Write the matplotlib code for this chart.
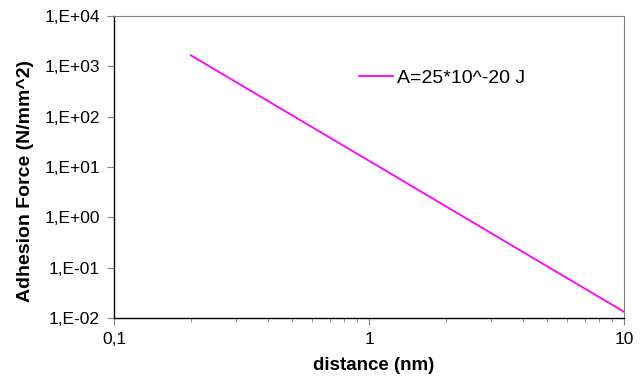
import matplotlib
matplotlib.use("Agg")
import matplotlib.pyplot as plt
from matplotlib.ticker import FixedLocator, LogLocator, NullFormatter, FuncFormatter
import numpy as np

# distance in nm vs adhesion force in N/mm^2
distance = [0.2, 0.5, 1.0, 2.0, 5.0, 10.0]
force = [1658.0, 106.0, 13.3, 1.66, 0.106, 0.0133]
seriesLabel = "A=25*10^-20 J"

plt.rcParams["font.family"] = ["Liberation Sans", "DejaVu Sans"]

fig = plt.figure(figsize=(6.44, 3.78), dpi=100)
ax = fig.add_axes([114/644, 1-318/378, (624-114)/644, (318-16)/378])

ax.plot(distance, force, color="#ff00ff", lw=1.3, label=seriesLabel)
ax.set_xscale("log")
ax.set_yscale("log")
ax.set_xlim(0.1, 10)
ax.set_ylim(1e-2, 1e4)

def xfmt(v, pos):
    return ("%g" % v).replace(".", ",")

def yfmt(v, pos):
    e = int(round(np.log10(v)))
    return "1,E%s%02d" % ("+" if e >= 0 else "-", abs(e))

ax.xaxis.set_major_locator(FixedLocator([0.1, 1, 10]))
ax.xaxis.set_major_formatter(FuncFormatter(xfmt))
ax.xaxis.set_minor_locator(LogLocator(base=10, subs=np.arange(2, 10)))
ax.xaxis.set_minor_formatter(NullFormatter())
ax.yaxis.set_major_locator(FixedLocator([10.0**k for k in range(-2, 5)]))
ax.yaxis.set_major_formatter(FuncFormatter(yfmt))
ax.yaxis.set_minor_locator(FixedLocator([]))

ax.tick_params(axis="both", which="major", labelsize=12.5, length=5, color="#808080")
ax.tick_params(axis="x", which="minor", length=3, color="#808080")
ax.tick_params(axis="x", pad=5)
ax.tick_params(axis="y", pad=5)

for s in ["top", "right"]:
    ax.spines[s].set_color("#808080")
    ax.spines[s].set_linewidth(0.8)
for s in ["left", "bottom"]:
    ax.spines[s].set_color("black")
    ax.spines[s].set_linewidth(1.0)

ax.set_xlabel("distance (nm)", fontsize=13.5, fontweight="bold")
ax.xaxis.set_label_coords(0.51, -0.128)
ax.set_ylabel("Adhesion Force (N/mm^2)", fontsize=14, fontweight="bold")
ax.yaxis.set_label_coords(-0.157, 0.455)

ax.legend(loc="center left", bbox_to_anchor=(245/510, 0.795), frameon=False, fontsize=14,
          handlelength=1.75, handletextpad=0.2, borderpad=0, borderaxespad=0)

fig.savefig("out.png", dpi=100)
